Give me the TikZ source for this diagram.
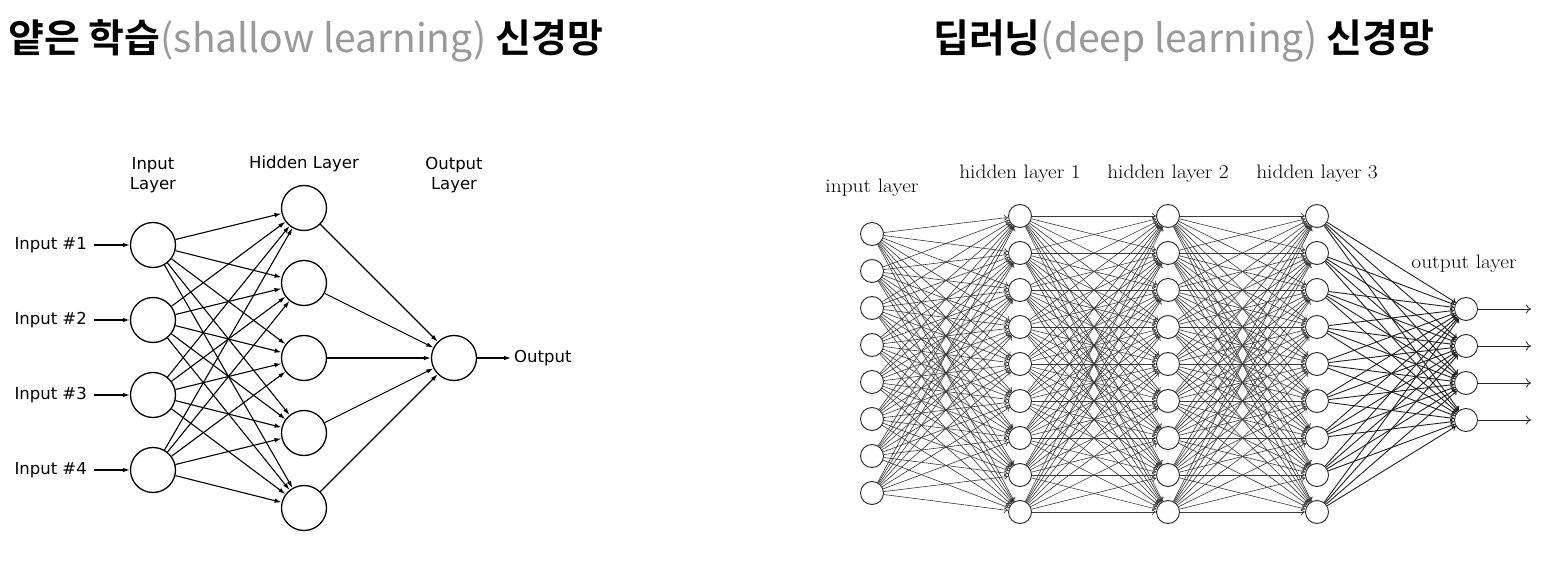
\documentclass[tikz,border=0pt]{standalone}
\usepackage{fontspec}
\usetikzlibrary{
  arrows.meta,
  positioning
}
\newfontfamily\cjk{Noto Sans CJK KR}[BoldFont={Noto Sans CJK KR Bold}]
\newfontfamily\dejavu{DejaVu Sans}
\definecolor{titleGray}{rgb}{0.6,0.6,0.6}
\tikzset{
  neuron/.style={
    circle,
    draw,
    fill=white,
    line width=1.3pt,
    minimum size=45pt,
    inner sep=0pt
  },
  dneuron/.style={
    circle,
    draw=black!85,
    fill=white,
    line width=0.9pt,
    minimum size=23pt,
    inner sep=0pt
  },
  sedge/.style={-{Latex[length=7pt,width=4.5pt]}, line width=1.1pt},
  dedge/.style={-{To[length=4pt,width=6pt]}, line width=0.6pt, draw=black!78},
  dout/.style={-{To[length=5pt,width=9pt]}, line width=0.8pt, draw=black!85},
  slabel/.style={font=\dejavu\fontsize{16.5}{20}\selectfont, inner sep=3pt, align=center},
  dlabel/.style={font=\fontsize{19.5}{22}\selectfont, inner sep=0pt, anchor=base},
  title/.style={font=\cjk\fontsize{39}{44}\selectfont, inner sep=0pt, anchor=base west}
}

\begin{document}
\begin{tikzpicture}[x=1pt, y=-1pt, >=Stealth]

      \fill[white] (0,0) rectangle (1548,585);
      \useasboundingbox (0,0) rectangle (1548,585);

      % titles
      \node[title] (t1) at (8,53)
        {\bfseries 얕은 학습{\mdseries\color{titleGray}(shallow learning)} 신경망};
      \node[title] (t2) at (933,53)
        {\bfseries 딥러닝{\mdseries\color{titleGray}(deep learning)} 신경망};

      % shallow network
      \node[slabel] (hin) at (153,175) {Input\\Layer};
      \node[slabel, anchor=base] (hhid) at (304,169) {Hidden Layer};
      \node[slabel] (hout) at (454,175) {Output\\Layer};

      \foreach \i in {1,...,4}{
        \node[neuron] (in\i) at (153,170+75*\i) {};
        \node[slabel, anchor=east] (lin\i) at (90,170+75*\i) {Input \#\i};
        \draw[sedge, shorten <=4pt] (lin\i) -- (in\i);
      }
      \foreach \j in {1,...,5}{
        \node[neuron] (hid\j) at (304,133+75*\j) {};
      }
      \node[neuron] (out) at (454,358) {};
      \node[slabel, anchor=west] (lout) at (511,358) {Output};

      \foreach \i in {1,...,4}{
        \foreach \j in {1,...,5}{
          \draw[sedge] (in\i) -- (hid\j);
        }
      }
      \foreach \j in {1,...,5}{
        \draw[sedge] (hid\j) -- (out);
      }
      \draw[sedge] (out) -- (lout);

      % deep network
      \node[dlabel] (dhin) at (872,193) {\scalebox{1.1}[1]{input layer}};
      \foreach \k/\x in {1/1020, 2/1168, 3/1317}{
        \node[dlabel] (dhh\k) at (\x,179) {\scalebox{1.1}[1]{hidden layer \k}};
      }
      \node[dlabel] (dhout) at (1464,269) {\scalebox{1.1}[1]{output layer}};

      \foreach \i in {1,...,8}{
        \node[dneuron] (a\i) at (872,197+37*\i) {};
      }
      \foreach \k/\x in {1/1020, 2/1168, 3/1317}{
        \foreach \j in {1,...,9}{
          \node[dneuron] (h\k-\j) at (\x,179+37*\j) {};
        }
      }
      \foreach \j in {1,...,4}{
        \node[dneuron] (o\j) at (1466,272+37*\j) {};
        \coordinate (y\j) at (1531,272+37*\j);
      }

      \foreach \i in {1,...,8}{
        \foreach \j in {1,...,9}{
          \draw[dedge] (a\i) -- (h1-\j);
        }
      }
      \foreach \k/\n in {1/2, 2/3}{
        \foreach \i in {1,...,9}{
          \foreach \j in {1,...,9}{
            \draw[dedge] (h\k-\i) -- (h\n-\j);
          }
        }
      }
      \foreach \i in {1,...,9}{
        \foreach \j in {1,...,4}{
          \draw[dedge, line width=0.9pt, draw=black!88] (h3-\i) -- (o\j);
        }
      }
      \foreach \j in {1,...,4}{
        \draw[dout] (o\j) -- (y\j);
      }
    \end{tikzpicture}
\end{document}
